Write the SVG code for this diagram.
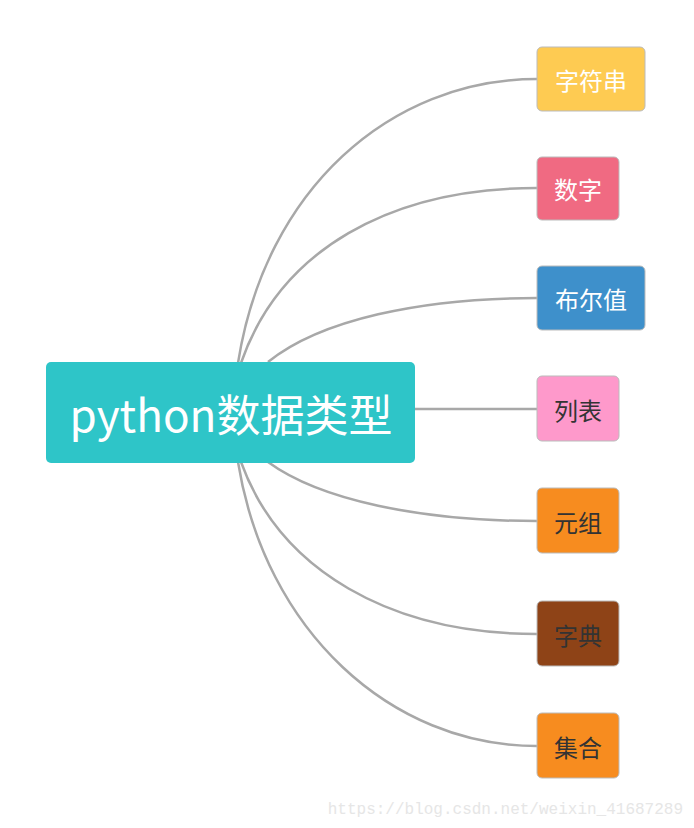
<svg xmlns="http://www.w3.org/2000/svg" width="694" height="828" viewBox="0 0 694 828">
<style>
.c{fill:none;stroke:#a8a8a8;stroke-width:2.5}
.b{stroke:#bbbbbb;stroke-width:1}
.t{font-family:"Noto Sans CJK SC","Noto Sans",sans-serif;font-size:24px;text-anchor:middle;dominant-baseline:central}
</style>
<rect width="694" height="828" fill="#fff"/>
<g id="connectors">
<path class="c" d="M238,363 C265,190 390,79 537,79"/>
<path class="c" d="M241,363 C280,250 390,188 537,188"/>
<path class="c" d="M268,362 C320,320 420,298 537,298"/>
<path class="c" d="M415,409 L537,409"/>
<path class="c" d="M268,462 C320,500 420,521 537,521"/>
<path class="c" d="M241,462 C280,570 390,634 537,634"/>
<path class="c" d="M238,462 C265,630 390,746 537,746"/>
</g>
<g id="root"><rect x="46" y="362" width="369" height="101" rx="5" fill="#2ec5c8"/><text class="t" x="231" y="413" font-size="46" fill="#fff" style="font-size:44px">python数据类型</text></g>
<g id="n1"><rect class="b" x="537" y="47" width="108" height="64" rx="5" fill="#fecb52"/><text class="t" x="591" y="79" fill="#fff">字符串</text></g>
<g id="n2"><rect class="b" x="537" y="157" width="82" height="63" rx="5" fill="#f06a82"/><text class="t" x="578" y="188" fill="#fff">数字</text></g>
<g id="n3"><rect class="b" x="537" y="266" width="108" height="64" rx="5" fill="#3e90cb"/><text class="t" x="591" y="298" fill="#fff">布尔值</text></g>
<g id="n4"><rect class="b" x="537" y="376" width="82" height="65" rx="5" fill="#fe99cb"/><text class="t" x="578" y="409" fill="#333">列表</text></g>
<g id="n5"><rect class="b" x="537" y="488" width="82" height="65" rx="5" fill="#f78c1f"/><text class="t" x="578" y="521" fill="#333">元组</text></g>
<g id="n6"><rect class="b" x="537" y="601" width="82" height="65" rx="5" fill="#8e4317"/><text class="t" x="578" y="634" fill="#333">字典</text></g>
<g id="n7"><rect class="b" x="537" y="713" width="82" height="65" rx="5" fill="#f78c1f"/><text class="t" x="578" y="746" fill="#333">集合</text></g>
<text x="683" y="814" font-family="Liberation Mono,monospace" font-size="16" fill="#e6e6e6" text-anchor="end">https://blog.csdn.net/weixin_41687289</text>
</svg>
